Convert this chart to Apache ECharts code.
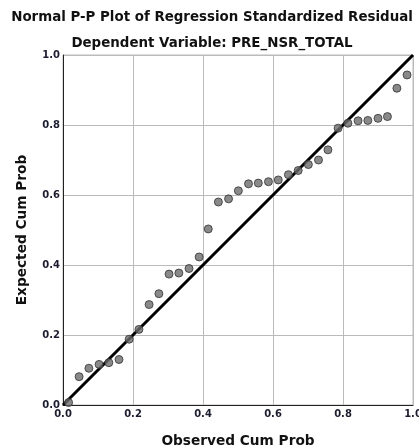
<!DOCTYPE html>
<html>
<head>
<meta charset="utf-8">
<script src="https://cdn.jsdelivr.net/npm/echarts@6/dist/echarts.min.js"></script>
<style>
  html, body { margin: 0; padding: 0; background: #fff; }
  #chart { width: 419px; height: 448px; }
</style>
</head>
<body>
<div id="chart"></div>
<script>
// observed cumulative probability (x) and expected cumulative probability (y)
var observed = [0.016, 0.046, 0.074, 0.103, 0.131, 0.160, 0.189, 0.217, 0.246, 0.274,
    0.303, 0.331, 0.360, 0.389, 0.415, 0.444, 0.473, 0.501, 0.530, 0.558,
    0.587, 0.615, 0.644, 0.672, 0.701, 0.730, 0.757, 0.786, 0.814, 0.843,
    0.871, 0.900, 0.927, 0.954, 0.983];
var expected = [0.007, 0.081, 0.105, 0.116, 0.121, 0.130, 0.188, 0.216, 0.287, 0.318,
    0.374, 0.377, 0.390, 0.423, 0.503, 0.580, 0.589, 0.612, 0.632, 0.634,
    0.638, 0.643, 0.658, 0.670, 0.687, 0.700, 0.729, 0.791, 0.805, 0.812,
    0.813, 0.819, 0.824, 0.905, 0.943];
var refLine = [[0, 0], [1, 1]];

var points = [];
for (var i = 0; i < observed.length; i++) {
    points.push([observed[i], expected[i]]);
}

var myChart = echarts.init(document.getElementById('chart'));
var labelColor = '#1c1c30';
var font = 'DejaVu Sans, Verdana, sans-serif';

var option = {
    animation: false,
    title: [
        {
            text: 'Normal P-P Plot of Regression Standardized Residual',
            left: 207,
            top: 6,
            textAlign: 'center',
            textStyle: { fontFamily: font, fontSize: 13.4, fontWeight: 'bold', color: '#111' }
        },
        {
            text: 'Dependent Variable: PRE_NSR_TOTAL',
            left: 207,
            top: 32,
            textAlign: 'center',
            textStyle: { fontFamily: font, fontSize: 13.4, fontWeight: 'bold', color: '#111' }
        }
    ],
    grid: {
        left: 63, right: 6, top: 55, bottom: 43,
        outerBoundsMode: 'none',
        show: true, borderColor: '#bbb', borderWidth: 1
    },
    xAxis: {
        type: 'value',
        min: 0, max: 1, interval: 0.2,
        name: 'Observed Cum Prob',
        nameLocation: 'middle',
        nameGap: 29,
        nameTextStyle: { fontFamily: font, fontSize: 13.7, fontWeight: 'bold', color: '#111' },
        axisLine: { show: true, lineStyle: { color: '#222', width: 1 } },
        axisTick: { show: false },
        axisLabel: {
            fontFamily: font, fontSize: 10, fontWeight: 'bold', color: labelColor, margin: 4,
            formatter: function (v) { return v.toFixed(1); }
        },
        splitLine: { show: true, lineStyle: { color: '#bbb', width: 1 } }
    },
    yAxis: {
        type: 'value',
        min: 0, max: 1, interval: 0.2,
        name: 'Expected Cum Prob',
        nameLocation: 'middle',
        nameGap: 34,
        nameTextStyle: { fontFamily: font, fontSize: 13.7, fontWeight: 'bold', color: '#111' },
        axisLine: { show: true, lineStyle: { color: '#222', width: 1 } },
        axisTick: { show: false },
        axisLabel: {
            fontFamily: font, fontSize: 10, fontWeight: 'bold', color: labelColor, margin: 3,
            formatter: function (v) { return v.toFixed(1); }
        },
        splitLine: { show: true, lineStyle: { color: '#bbb', width: 1 } }
    },
    series: [
        {
            type: 'line',
            data: refLine,
            symbol: 'none',
            lineStyle: { color: '#000', width: 3 },
            z: 2
        },
        {
            type: 'scatter',
            data: points,
            symbol: 'circle',
            symbolSize: 8,
            itemStyle: { color: '#6b6b6b', borderColor: '#333', borderWidth: 1 },
            z: 3
        }
    ]
};
myChart.setOption(option);
</script>
</body>
</html>
